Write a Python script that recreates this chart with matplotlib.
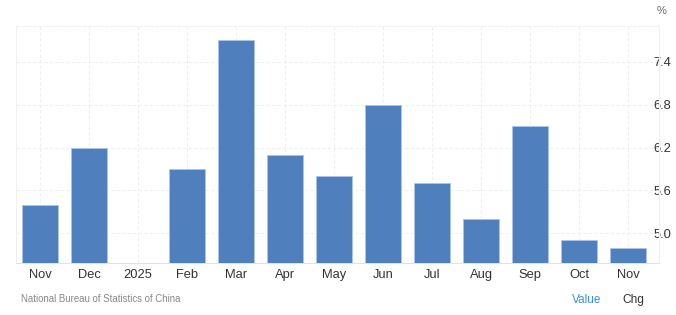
import matplotlib.pyplot as plt
import numpy as np

plt.rcParams['font.family'] = ['Liberation Sans', 'DejaVu Sans']

months = ["Nov", "Dec", "2025", "Feb", "Mar", "Apr", "May", "Jun", "Jul", "Aug", "Sep", "Oct", "Nov"]
values = [5.4, 6.2, np.nan, 5.9, 7.7, 6.1, 5.8, 6.8, 5.7, 5.2, 6.5, 4.9, 4.8]
yticks = [5.0, 5.6, 6.2, 6.8, 7.4]
ymin, ymax = 4.585, 7.9

W, H = 676, 315
fig = plt.figure(figsize=(W/100, H/100), dpi=100)
ax = fig.add_axes([16/W, (H-263)/H, (659-16)/W, (263-26)/H])

x = np.arange(len(months))
vals = np.array(values, dtype=float)
ax.bar(x, vals - ymin, bottom=ymin, width=0.74, color="#4f7fbd",
       edgecolor="#a9c6ea", linewidth=0.7, zorder=3)

ax.set_xlim(-0.49, 12.63)
ax.set_ylim(ymin, ymax)

ax.set_xticks(x)
ax.set_xticklabels(months, fontsize=9.3, color="#333333")
ax.yaxis.tick_right()
ax.set_yticks(yticks)
ax.set_yticklabels(["%.1f" % t for t in yticks], fontsize=9.3, color="#333333")
ax.tick_params(axis="both", length=0)
ax.tick_params(axis="x", pad=4)
ax.tick_params(axis="y", pad=-4)

ax.grid(True, color="#efefef", linestyle=(0, (3, 2)), linewidth=0.8, zorder=0)
for side in ["left", "right", "top"]:
    ax.spines[side].set_color("#f0f0f0")
    ax.spines[side].set_linewidth(0.8)
ax.spines["top"].set_linestyle((0, (3, 2)))
ax.spines["bottom"].set_color("#e2e2e2")
ax.spines["bottom"].set_linewidth(0.8)

fig.text(662/W, 1 - 11/H, "%", fontsize=8, color="#666666", ha="center", va="center")
fig.text(21/W, 1 - 299/H, "National Bureau of Statistics of China", fontsize=6.9,
         color="#888888", ha="left", va="center")
fig.text(572/W, 1 - 300/H, "Value", fontsize=8.6, color="#3d8fe6", ha="left", va="center")
fig.text(622/W, 1 - 300/H, "Chg", fontsize=8.6, color="#333333", ha="left", va="center")

plt.savefig("out.png", dpi=100)
plt.close(fig)
